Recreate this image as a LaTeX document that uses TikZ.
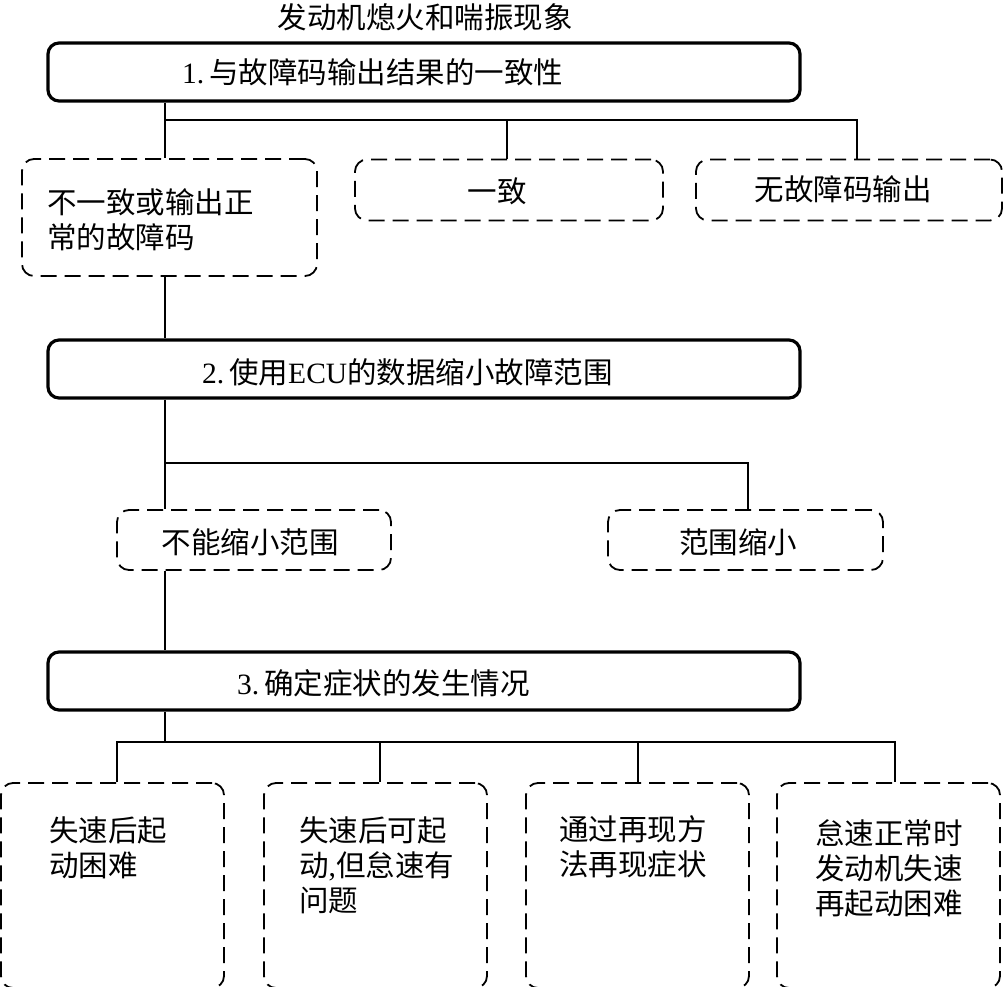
\documentclass[tikz,border=0pt]{standalone}
\usepackage{fontspec}
\setmainfont{Liberation Serif}
\newfontfamily\cjk{Noto Sans CJK SC}
\usetikzlibrary{calc}
\tikzset{
  mainbox/.style={draw, line width=3.2pt, rounded corners=11pt, inner sep=0pt},
  dbox/.style={draw, line width=1.8pt, rounded corners=12pt, dash pattern=on 16pt off 8pt, inner sep=0pt},
  conn/.style={line width=1.4pt},
  lbl/.style={inner sep=0pt, font=\fontsize{29.5}{35}\selectfont\cjk},
  mlbl/.style={lbl, align=left, anchor=north west},
}
\begin{document}
\begin{tikzpicture}[x=1pt,y=-1pt]
\useasboundingbox (0,0) rectangle (1004,987);
% title
\node[lbl] (title) at (425,17) {发动机熄火和喘振现象};
% main boxes
\node[mainbox, minimum width=752pt, minimum height=58pt] (b1) at (424,72) {};
\node[lbl, anchor=west] (t1) at (182,72) {{\rmfamily 1.}\,与故障码输出结果的一致性};
\node[mainbox, minimum width=752pt, minimum height=58pt] (b2) at (424,369) {};
\node[lbl, anchor=west] (t2) at (202,372) {{\rmfamily 2.}\,使用{\rmfamily ECU}的数据缩小故障范围};
\node[mainbox, minimum width=752pt, minimum height=58pt] (b3) at (424,681) {};
\node[lbl, anchor=west] (t3) at (237,683) {{\rmfamily 3.}\,确定症状的发生情况};
% level 1 dashed boxes
\node[dbox, minimum width=295pt, minimum height=117pt] (A) at (169.5,217.5) {};
\node[mlbl] (tA) at (47,188) {不一致或输出正\\常的故障码};
\node[dbox, minimum width=308pt, minimum height=61pt] (B) at (509,190) {};
\node[lbl] (tB) at (497,191) {一致};
\node[dbox, minimum width=306pt, minimum height=61pt] (C) at (849,190) {};
\node[lbl] (tC) at (843,189) {无故障码输出};
% level 2 dashed boxes
\node[dbox, minimum width=274pt, minimum height=60pt] (D) at (254,540) {};
\node[lbl] (tD) at (250,542) {不能缩小范围};
\node[dbox, minimum width=275pt, minimum height=60pt] (E) at (745.5,540) {};
\node[lbl] (tE) at (738,542) {范围缩小};
% level 3 dashed boxes
\node[dbox, minimum width=223pt, minimum height=205pt] (F) at (112.5,885.5) {};
\node[mlbl] (tF) at (49,817) {失速后起\\动困难};
\node[dbox, minimum width=223pt, minimum height=205pt] (G) at (375.5,885.5) {};
\node[mlbl] (tG) at (299,817) {失速后可起\\动{\rmfamily,}但怠速有\\问题};
\node[dbox, minimum width=223pt, minimum height=205pt] (H) at (637.5,885.5) {};
\node[mlbl] (tH) at (559,815) {通过再现方\\法再现症状};
\node[dbox, minimum width=223pt, minimum height=205pt] (I) at (888.5,885.5) {};
\node[mlbl] (tI) at (815,819) {怠速正常时\\发动机失速\\再起动困难};
% helper coordinates
\coordinate (s) at (165,0);
\coordinate (h1) at (0,120);
\coordinate (h2) at (0,463);
\coordinate (h3) at (0,742);
\coordinate (xB) at (507,0);
\coordinate (xC) at (857,0);
\coordinate (xE) at (748,0);
\coordinate (xF) at (117,0);
\coordinate (xG) at (380,0);
\coordinate (xH) at (638,0);
\coordinate (xI) at (895,0);
% connectors
\draw[conn] (b1.south -| s) -- (A.north -| s);
\draw[conn] (s |- h1) -| (B.north -| xB);
\draw[conn] (xB |- h1) -| (C.north -| xC);
\draw[conn] (A.south -| s) -- (b2.north -| s);
\draw[conn] (b2.south -| s) -- (D.north -| s);
\draw[conn] (s |- h2) -| (E.north -| xE);
\draw[conn] (D.south -| s) -- (b3.north -| s);
\draw[conn] (b3.south -| s) -- (s |- h3);
\draw[conn] (F.north -| xF) |- (xI |- h3) -- (I.north -| xI);
\draw[conn] (xG |- h3) -- (G.north -| xG);
\draw[conn] (xH |- h3) -- (H.north -| xH);
\end{tikzpicture}
\end{document}
